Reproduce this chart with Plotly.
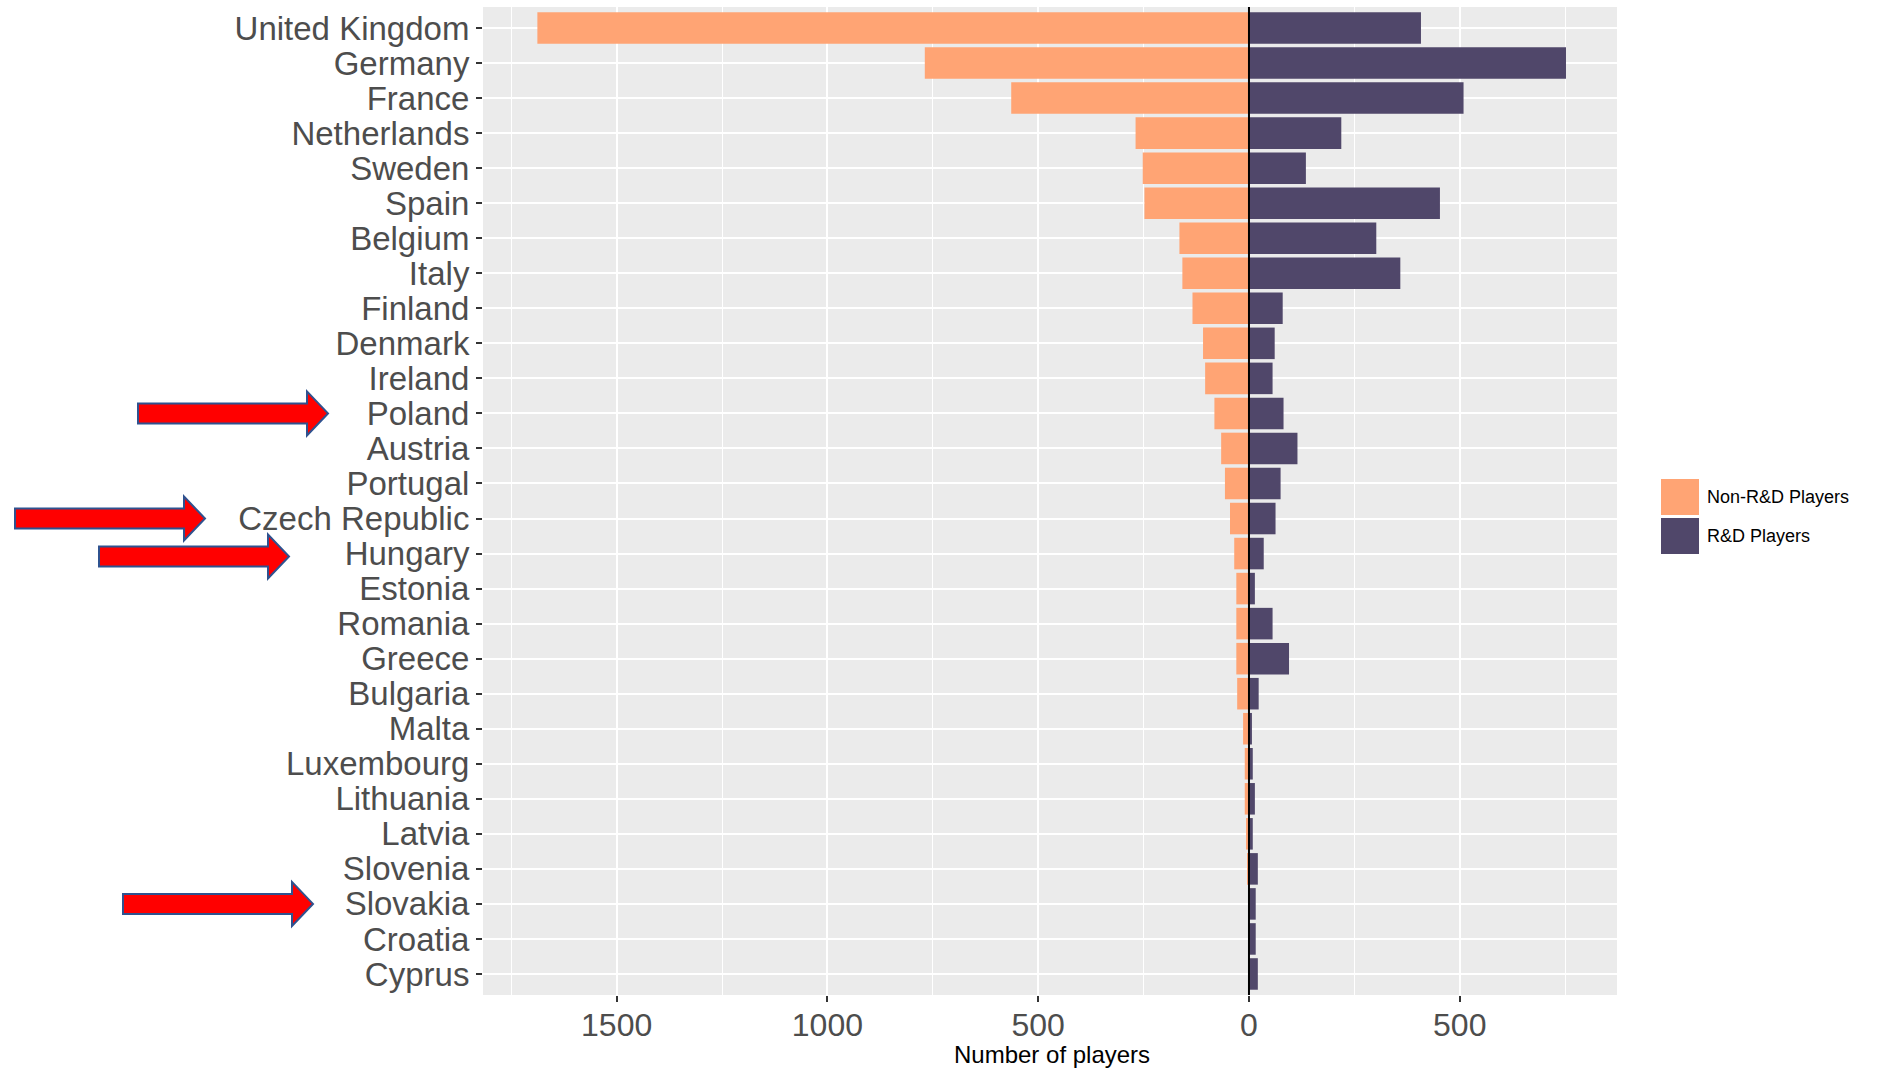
import plotly.graph_objects as go

# ---------------- data ----------------
countries = ["United Kingdom", "Germany", "France", "Netherlands", "Sweden", "Spain",
             "Belgium", "Italy", "Finland", "Denmark", "Ireland", "Poland", "Austria",
             "Portugal", "Czech Republic", "Hungary", "Estonia", "Romania", "Greece",
             "Bulgaria", "Malta", "Luxembourg", "Lithuania", "Latvia", "Slovenia",
             "Slovakia", "Croatia", "Cyprus"]
non_rd_players = [1688, 769, 564, 269, 252, 248, 165, 158, 134, 109, 104, 82, 66, 57,
                  45, 35, 30, 30, 30, 28, 14, 10, 10, 7, 3, 2, 2, 1]
rd_players = [408, 752, 509, 219, 135, 453, 302, 359, 80, 61, 56, 82, 115, 75,
              63, 35, 14, 56, 95, 23, 7, 9, 14, 9, 21, 16, 16, 21]
x_tick_vals = [-1500, -1000, -500, 0, 500]
x_tick_text = ["1500", "1000", "500", "0", "500"]
highlighted = ["Poland", "Czech Republic", "Hungary", "Slovakia"]
series_names = ["Non-R&D Players", "R&D Players"]
series_colors = ["#FFA474", "#50476A"]

# ---------------- layout geometry (pixels) ----------------
W, H = 1878, 1068
PL, PR, PT, PB = 483, 1617, 7, 995  # panel box


def px2x(px):
    return (px - PL) / (PR - PL)


def py2y(py):
    return (PB - py) / (PB - PT)


fig = go.Figure()
fig.add_trace(go.Bar(
    y=countries, x=[-v for v in non_rd_players], orientation="h",
    name=series_names[0], marker=dict(color=series_colors[0], line=dict(width=0)),
    width=0.9, showlegend=False))
fig.add_trace(go.Bar(
    y=countries, x=rd_players, orientation="h",
    name=series_names[1], marker=dict(color=series_colors[1], line=dict(width=0)),
    width=0.9, showlegend=False))

shapes = []
# vertical line at zero
shapes.append(dict(type="line", xref="x", yref="paper", x0=0, x1=0, y0=0, y1=1,
                   line=dict(color="black", width=2), layer="above"))

# red arrows pointing at highlighted countries
arrow_geom = {  # body start, body end, tip (px relative to panel left), y offset px
    "Poland": (-345, -176, -155, 0),
    "Czech Republic": (-468, -299, -278, 0),
    "Hungary": (-384, -215, -194, -3),
    "Slovakia": (-360, -191, -170, 0),
}
for name in highlighted:
    a, b, t, dy = arrow_geom[name]
    h1, h2 = 10, 22
    path = (f"M{a},{dy - h1} L{b},{dy - h1} L{b},{dy - h2} L{t},{dy} "
            f"L{b},{dy + h2} L{b},{dy + h1} L{a},{dy + h1} Z")
    shapes.append(dict(type="path", xref="paper", yref="y",
                       xsizemode="pixel", ysizemode="pixel",
                       xanchor=0, yanchor=countries.index(name),
                       path=path, fillcolor="#FF0000",
                       line=dict(color="#2F528F", width=2), layer="above"))

# manual legend
annotations = []
key_tops = [479, 518]
for i, nm in enumerate(series_names):
    top = key_tops[i]
    shapes.append(dict(type="rect", xref="paper", yref="paper",
                       x0=px2x(1661), x1=px2x(1699), y0=py2y(top + 36), y1=py2y(top),
                       fillcolor=series_colors[i], line=dict(width=0)))
    annotations.append(dict(xref="paper", yref="paper", x=px2x(1705), y=py2y(top + 18),
                            text=nm, showarrow=False, xanchor="left", yanchor="middle",
                            font=dict(family="Liberation Sans, Arial", size=18, color="black")))

# x axis title
annotations.append(dict(xref="paper", yref="paper", x=px2x(1052), y=py2y(1054),
                        text="Number of players", showarrow=False,
                        xanchor="center", yanchor="middle",
                        font=dict(family="Liberation Sans, Arial", size=24, color="black")))

fig.update_layout(
    width=W, height=H,
    margin=dict(l=PL, r=W - PR, t=PT, b=H - PB, autoexpand=False),
    paper_bgcolor="white", plot_bgcolor="#EBEBEB",
    barmode="relative", bargap=0.1,
    shapes=shapes, annotations=annotations,
    font=dict(family="Liberation Sans, Arial"),
    showlegend=False,
)
fig.update_xaxes(
    range=[-1817, 873], tickmode="array", tickvals=x_tick_vals, ticktext=x_tick_text,
    showgrid=True, gridcolor="white", gridwidth=2.4, zeroline=False,
    minor=dict(tick0=0, dtick=250, showgrid=True, gridcolor="white", gridwidth=1.2),
    ticks="outside", ticklen=6, tickwidth=1.5, tickcolor="#333333",
    tickfont=dict(size=32, color="#4D4D4D"), ticklabelstandoff=-4,
    automargin=False, showline=False,
)
fig.update_yaxes(
    categoryorder="array", categoryarray=countries, range=[27.6, -0.6],
    tickmode="array", tickvals=countries, ticktext=countries,
    showgrid=True, gridcolor="white", gridwidth=2.4, zeroline=False,
    ticks="outside", ticklen=6, tickwidth=1.5, tickcolor="#333333",
    tickfont=dict(size=33, color="#4D4D4D"), automargin=False, showline=False,
)

fig.write_html("out.html", config={"displayModeBar": False},
               post_script="document.body.style.margin='0';")
